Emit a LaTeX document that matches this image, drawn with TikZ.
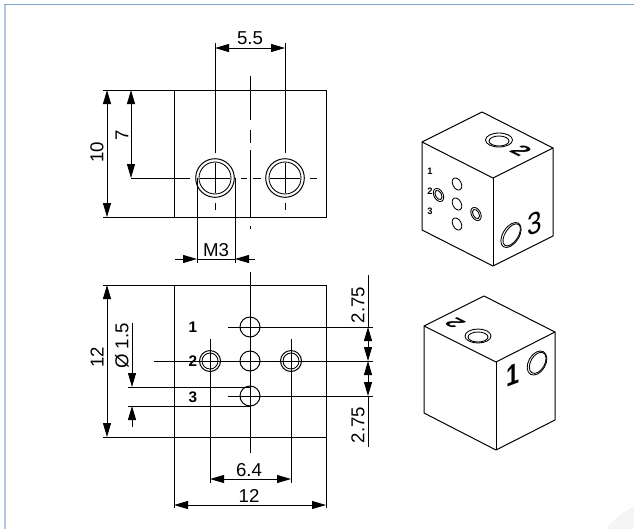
\documentclass[tikz,border=0pt]{standalone}
\usepackage{fontspec}
\setmainfont{Liberation Sans}
\usepackage{tikz}
\usetikzlibrary{arrows.meta, calc}

\definecolor{frameTop}{HTML}{7FA6CE}
\definecolor{frameLeft}{HTML}{B4CAE2}

\begin{document}
\begin{tikzpicture}[
        x=0.75pt,
        y=-0.75pt,
        part/.style={line width=0.75pt},
        thin part/.style={line width=0.65pt},
        ext/.style={line width=0.7pt},
        dim/.style={line width=0.7pt, {Triangle[length=10.5pt, width=6pt]}-{Triangle[length=10.5pt, width=6pt]}},
        leader/.style={line width=0.7pt, -{Triangle[length=10.5pt, width=6pt]}},
        size/.style={font=\fontsize{14pt}{15pt}\selectfont, inner sep=0pt},
        pin/.style={font=\bfseries\fontsize{11.5pt}{12pt}\selectfont, inner sep=0pt},
        tiny pin/.style={font=\bfseries\fontsize{7pt}{8pt}\selectfont, inner sep=0pt},
        face/.style={inner sep=0pt, transform shape}
    ]

        \useasboundingbox (0,0) rectangle (634,529);

        % ---- Frame ----
        \draw[frameLeft, line width=1.5pt] (5,4) -- (5,529);
        \draw[frameTop, line width=1.2pt] (4,4.5) -- (634,4.5);
        \fill[black!4] (634,506) .. controls (622,513) and (612,520) .. (606,529) -- (634,529) -- cycle;

        % ---- Top view ----
        \coordinate (tvA) at (174,90);
        \coordinate (tvB) at (326,217);
        \coordinate (tvH1) at (215,178);
        \coordinate (tvH2) at (285,178);

        \draw[part] (tvA) rectangle (tvB);
        \foreach \ya/\yb in {76/120, 130/143, 150/217, 226/229} {
            \draw[ext] (250,\ya) -- (250,\yb);
        }
        \foreach \xa/\xb in {131/190, 241/247, 253/261, 310/317} {
            \draw[ext] (\xa,178) -- (\xb,178);
        }
        \draw[ext] (103,90) -- (tvA);
        \draw[ext] (103,217) -- (174,217);

        \foreach \hole in {tvH1, tvH2} {
            \draw[part] (\hole) circle (19.3);
            \draw[thin part] (\hole) circle (16);
            \draw[ext] ($(\hole)+(-15,0)$) -- ($(\hole)+(15,0)$);
            \draw[ext] ($(\hole)+(0,-15)$) -- ($(\hole)+(0,15)$);
            \draw[ext] ($(\hole)+(0,25)$) -- ($(\hole)+(0,32)$);
            \draw[ext] ($(\hole)+(0,-25)$) -- ($(\hole)+(0,-135)$);
        }

        \draw[dim] (215,48) -- (285,48);
        \node[size] (lbl55) at (250,38.5) {5.5};
        \draw[dim] (107,90) -- (107,217);
        \node[size, rotate=90] (lbl10) at (97,152) {10};
        \draw[dim] (131,90) -- (131,178);
        \node[size, rotate=90] (lbl7) at (122,135) {7};

        \draw[ext] (197,178) -- (197,263);
        \draw[ext] (235,178) -- (235,263);
        \draw[ext] (197,259) -- (235,259);
        \node[size] (lblM3) at (216,250) {M3};
        \draw[leader] (175,259) -- (197,259);
        \draw[leader] (255,259) -- (235,259);

        % ---- Bottom view ----
        \coordinate (bvA) at (174,285);
        \coordinate (bvB) at (326,437);
        \coordinate (bvC) at (250,361);
        \coordinate (bvH1) at (250,327);
        \coordinate (bvH3) at (250,396);
        \coordinate (bvL) at (210,361);
        \coordinate (bvR) at (291,361);

        \draw[part] (bvA) -- (326,285) -- (bvB) -- (103,437);
        \draw[part] (bvA) -- (174,508);
        \draw[part] (326,285) -- (326,508);
        \draw[ext] (103,285) -- (bvA);

        \draw[ext] (250,272) -- (250,453);
        \draw[ext] (228,327) -- (373,327);
        \draw[ext] (154,361) -- (373,361);
        \draw[ext] (228,396) -- (373,396);
        \draw[ext] (128,387) -- (250,387);
        \draw[ext] (128,406) -- (250,406);
        \draw[ext] (210,339) -- (210,483);
        \draw[ext] (291,339) -- (291,483);

        \foreach \hole in {bvH1, bvC, bvH3} {
            \draw[part] (\hole) circle (10);
        }
        \foreach \hole in {bvL, bvR} {
            \draw[part] (\hole) circle (10.5);
            \draw[thin part] (\hole) circle (8);
        }

        \node[pin] (pin1) at (193,327) {1};
        \node[pin] (pin2) at (193,361) {2};
        \node[pin] (pin3) at (193,397) {3};

        \draw[dim] (107,285) -- (107,437);
        \node[size, rotate=90] (lbl12v) at (97,357) {12};
        \draw[dim] (210,479) -- (291,479);
        \node[size] (lbl64) at (249,470) {6.4};
        \draw[dim] (174,505) -- (326,505);
        \node[size] (lbl12h) at (249,496) {12};

        \draw[leader] (132,323) -- (132,387);
        \draw[leader] (132,427) -- (132,406);
        \node[size, rotate=90] (lblD) at (122,346) {Ø 1.5};

        \draw[ext] (368,275) -- (368,327);
        \draw[ext] (368,396) -- (368,447);
        \draw[dim] (368,327) -- (368,361);
        \draw[dim] (368,361) -- (368,396);
        \node[size, rotate=90] (lbl275a) at (358,305) {2.75};
        \node[size, rotate=90] (lbl275b) at (358,425) {2.75};

        % ---- Upper block ----
        \coordinate (uaTop) at (482,112);
        \coordinate (uaL) at (422,142);
        \coordinate (uaF) at (493,178);
        \coordinate (uaR) at (553,148);
        \coordinate (uaB) at (493,266);
        \coordinate (uaLB) at (422,230);
        \coordinate (uaRB) at (553,236);

        \draw[part, line join=round] (uaTop) -- (uaR) -- (uaRB) -- (uaB) -- (uaLB) -- (uaL) -- cycle;
        \draw[part, line join=round] (uaL) -- (uaF) -- (uaR);
        \draw[part] (uaF) -- (uaB);

        \draw[thin part] (499,140) ellipse [x radius=13.5, y radius=7];
        \draw[thin part] (499,141) ellipse [x radius=10, y radius=5];
        \draw[thin part, rotate around={-33:(511,235)}] (511,235) ellipse [x radius=8, y radius=14];
        \draw[thin part, rotate around={-33:(511,235)}] (511.5,234.5) ellipse [x radius=6.5, y radius=12.5];

        \node[tiny pin] (upin1) at (430,171) {1};
        \node[tiny pin] (upin2) at (430,191) {2};
        \node[tiny pin] (upin3) at (430,211) {3};

        \foreach \hx/\hy in {457/184, 457/204, 457/224} {
            \draw[thin part, rotate around={28:(\hx,\hy)}] (\hx,\hy) ellipse [x radius=4.2, y radius=6.5];
        }
        \foreach \hx/\hy in {438.5/195, 476/214} {
            \draw[thin part, rotate around={28:(\hx,\hy)}] (\hx,\hy) ellipse [x radius=4.6, y radius=7];
            \draw[thin part, rotate around={28:(\hx,\hy)}] (\hx,\hy) ellipse [x radius=3, y radius=5];
        }

        \node[face, font=\fontsize{23pt}{23pt}\selectfont, cm={0.85,0.3,0,1,(0,0)}] (uface3) at (535,223) {3};
        \node[face, font=\bfseries\fontsize{17pt}{17pt}\selectfont, cm={0.89,-0.45,0.89,0.45,(0,0)}] (uface2) at (521,151) {2};

        % ---- Lower block ----
        \coordinate (laTop) at (484,296);
        \coordinate (laL) at (424,326);
        \coordinate (laF) at (496,362);
        \coordinate (laR) at (555,332);
        \coordinate (laB) at (496,450);
        \coordinate (laLB) at (424,413);
        \coordinate (laRB) at (555,420);

        \draw[part, line join=round] (laTop) -- (laR) -- (laRB) -- (laB) -- (laLB) -- (laL) -- cycle;
        \draw[part, line join=round] (laL) -- (laF) -- (laR);
        \draw[part] (laF) -- (laB);

        \draw[thin part] (478,336) ellipse [x radius=13, y radius=7];
        \draw[thin part] (478,337) ellipse [x radius=10, y radius=5];
        \draw[thin part, rotate around={-30:(537,363)}] (537,363) ellipse [x radius=8.5, y radius=13];
        \draw[thin part, rotate around={-30:(537,363)}] (537.5,362.5) ellipse [x radius=7, y radius=11.5];

        \node[face, font=\bfseries\fontsize{22pt}{22pt}\selectfont, cm={0.8,0.3,0,1,(0,0)}] (lface1) at (513,375) {1};
        \node[face, font=\bfseries\fontsize{16pt}{16pt}\selectfont, cm={-0.89,0.45,-0.89,-0.45,(0,0)}] (lface2) at (455,323) {2};

    \end{tikzpicture}
\end{document}
